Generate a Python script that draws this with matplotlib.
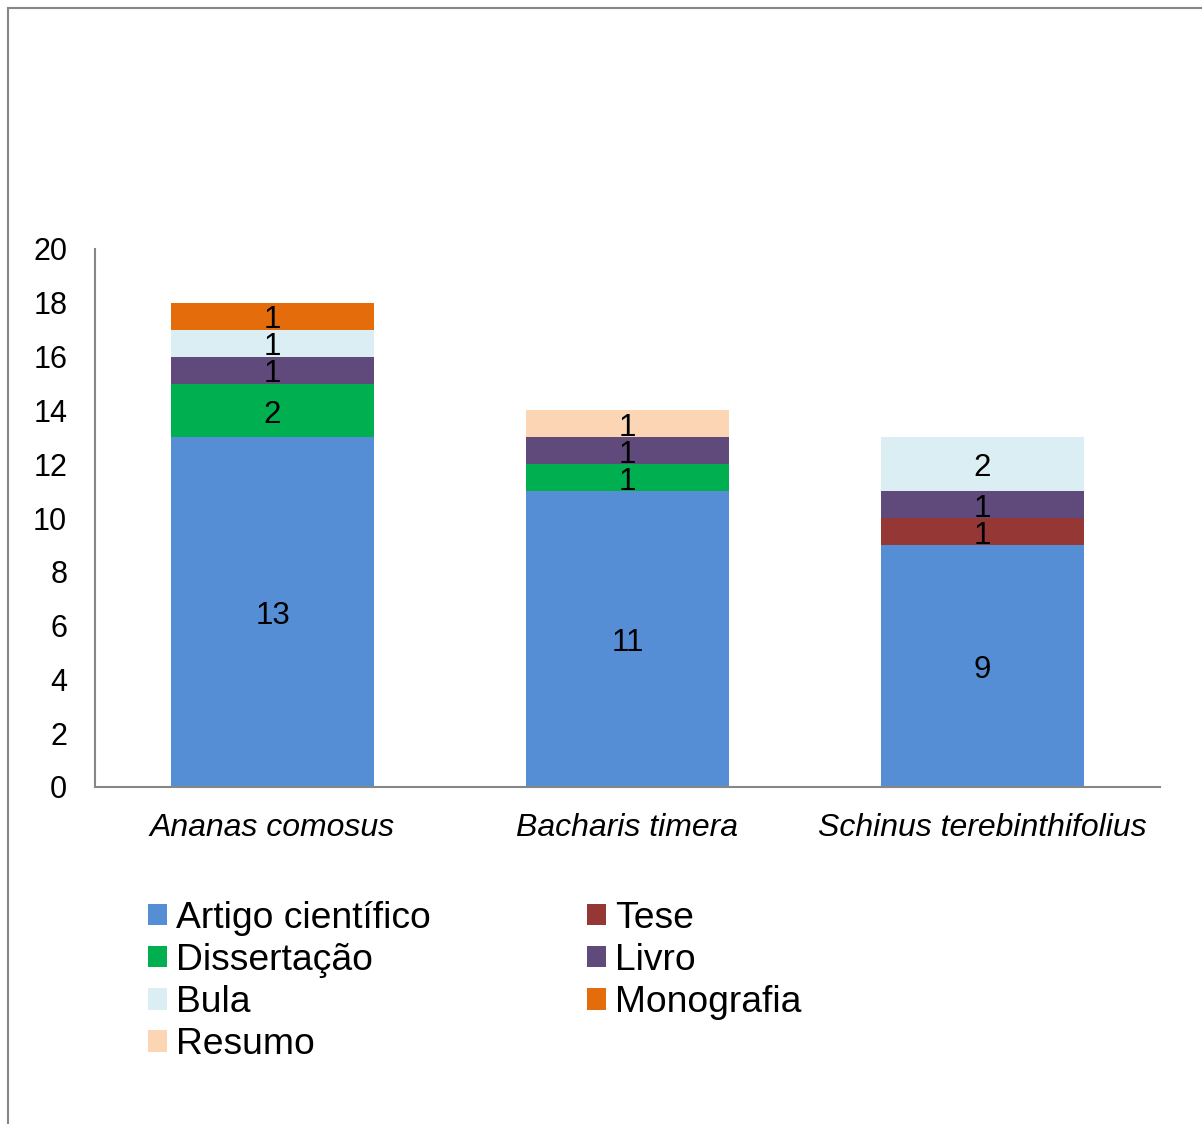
import numpy as np
import matplotlib
matplotlib.use("Agg")
import matplotlib.pyplot as plt
from matplotlib.patches import Rectangle, Patch

plt.rcParams['font.family'] = ['Liberation Sans', 'DejaVu Sans']

species = ['Ananas comosus', 'Bacharis timera', 'Schinus terebinthifolius']

# stack order, bottom to top
artigo      = [13, 11, 9]
tese        = [0, 0, 1]
dissertacao = [2, 1, 0]
livro       = [1, 1, 1]
bula        = [1, 0, 2]
monografia  = [1, 0, 0]
resumo      = [0, 1, 0]

series_names = ['Artigo científico', 'Tese', 'Dissertação', 'Livro',
                'Bula', 'Monografia', 'Resumo']
series_vals = [artigo, tese, dissertacao, livro, bula, monografia, resumo]
colors = ['#558ED5', '#953735', '#00B050', '#604A7B',
          '#DBEEF4', '#E46C0A', '#FCD5B5']

yticks = list(range(0, 21, 2))

fig = plt.figure(figsize=(12.02, 11.24), dpi=100)
ax = fig.add_axes([95/1202, 1 - 787/1124, (1160-95)/1202, (787-249)/1124])

x = np.arange(len(species))
bottom = np.zeros(len(species))
handles = {}
for name, vals, c in zip(series_names, series_vals, colors):
    vals = np.array(vals, dtype=float)
    ax.bar(x, vals, 0.57, bottom=bottom, color=c, label=name)
    for xi, b, v in zip(x, bottom, vals):
        if v > 0:
            ax.annotate(f'{int(v)}', (xi, b + v / 2), xytext=(0, -3),
                        textcoords='offset points', ha='center', va='center',
                        fontsize=22.5, color='black')
    handles[name] = Patch(facecolor=c, edgecolor='none')
    bottom += vals

ax.set_xlim(-0.5, 2.5)
ax.set_ylim(0, 20)
ax.set_yticks(yticks)
ax.set_xticks(x)
ax.set_xticklabels(species, fontstyle='italic', fontsize=23)
ax.tick_params(axis='both', length=0)
ax.tick_params(axis='y', pad=20, labelsize=22)
ax.tick_params(axis='x', pad=19)
for side in ['top', 'right']:
    ax.spines[side].set_visible(False)
for side in ['left', 'bottom']:
    ax.spines[side].set_color('#868686')
    ax.spines[side].set_linewidth(1.5)

# legend: row-wise order in two columns
col1 = ['Artigo científico', 'Dissertação', 'Bula', 'Resumo']
col2 = ['Tese', 'Livro', 'Monografia']
order = col1 + col2
fig.legend([handles[n] for n in order], order, ncol=2,
           loc='upper left', bbox_to_anchor=(148/1202, 1 - 901/1124),
           frameon=False, fontsize=26.8, handlelength=0.5, handleheight=0.5,
           handletextpad=0.25, columnspacing=4.2, labelspacing=0.19,
           borderpad=0, borderaxespad=0)

# outer frame (left and top edges visible)
fig.add_artist(Rectangle((8/1202, -0.1), 1.2, 1.1 - 8/1124,
                         transform=fig.transFigure, fill=False,
                         edgecolor='#868686', linewidth=1.5))

fig.savefig('out.png', dpi=100)
